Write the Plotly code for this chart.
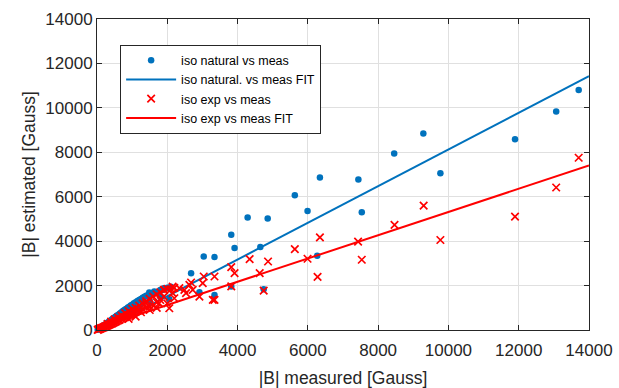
import plotly.graph_objects as go

# iso natural vs meas (blue dots)
nat_x = [20, 40, 60, 80, 100, 120, 150, 180, 200, 230, 260, 290, 320, 350, 380, 410, 440, 470, 500, 530,
         560, 600, 640, 680, 720, 760, 800, 840, 880, 920, 960, 1000, 1050, 1100, 1150, 1200, 1250, 1300,
         1350, 1400, 1450, 1500, 1600, 1700, 1800, 1900, 2000, 2100, 1200, 900, 600, 1000, 1500, 1800,
         1486, 1629, 1857, 2057, 700, 1100, 1300,
         2677, 2914, 3037, 3343, 3343, 3820, 3914, 3820, 4286, 4648, 4743, 4857,
         5629, 5991, 6266, 6343, 7438, 7534, 8457, 9286, 9771, 11895, 13066, 13706]
nat_y = [15, 40, 55, 80, 100, 115, 150, 190, 210, 240, 280, 310, 350, 380, 420, 450, 490, 520, 560, 600,
         640, 680, 730, 780, 830, 880, 920, 960, 1010, 1050, 1100, 1140, 1200, 1250, 1300, 1350, 1400, 1450,
         1500, 1540, 1560, 1600, 1650, 1700, 1800, 1880, 1900, 1950, 1000, 800, 500, 900, 1300, 1500,
         1686, 1731, 1806, 1386, 700, 1050, 1200,
         2560, 1701, 3311, 3282, 1581, 4290, 3690, 1956, 5059, 3734, 1837, 5020,
         6066, 5360, 3342, 6865, 6775, 5300, 7950, 8850, 7060, 8582, 9833, 10808]

# iso exp vs meas (red crosses)
exp_x = [20, 40, 60, 80, 100, 120, 150, 180, 200, 230, 260, 290, 320, 350, 380, 410, 440, 470, 500, 530,
         560, 600, 640, 680, 720, 760, 800, 840, 880, 920, 960, 1000, 1050, 1100, 1150, 1200, 1300, 1400, 1500,
         300, 400, 500, 600, 700, 800, 900, 1000, 1100, 1200, 1300, 1400, 1500, 1600, 1700, 1800, 1900, 2000,
         2200, 1600, 1700, 1800, 1900, 1250, 1500, 1700, 2000, 1100, 900, 1391, 1771, 1914, 2152, 2343,
         2152, 2533, 2057, 2200, 2105, 2486, 2629, 2724, 2914, 3009, 3295, 3037, 3343, 2677, 3820, 3914,
         3820, 4343, 4629, 4743, 4867, 3343,
         5629, 5991, 6343, 6276, 7429, 7534, 8466, 9295, 9771, 11895, 13066, 13706]
exp_y = [10, 25, 40, 50, 60, 80, 100, 120, 130, 160, 170, 200, 220, 240, 260, 290, 300, 330, 350, 380,
         400, 430, 460, 500, 520, 560, 580, 620, 650, 680, 700, 740, 780, 820, 860, 900, 950, 1000, 1050,
         280, 380, 480, 560, 650, 760, 850, 950, 1000, 1100, 1200, 1300, 1400, 1500, 1600, 1700, 1800, 1850,
         1900, 1100, 1250, 1350, 1500, 800, 900, 1000, 1200, 600, 500, 1204, 1204, 1806, 1956, 1882,
         1656, 1656, 978, 1430, 1836, 1806, 2032, 1806, 1505, 2108, 1355, 2408, 2408, 2138, 2830, 2560,
         1960, 3192, 2560, 1776, 3084, 1355,
         3644, 3207, 4170, 2393, 3975, 3162, 4728, 5600, 4051, 5104, 6414, 7755]

# linear fits (endpoints)
fit_x = [0, 14000]
nat_fit_y = [-130, 11426]
exp_fit_y = [80, 7406]

blue = "#0072BD"
red = "#FF0000"
fontc = "#262626"
fam = "Liberation Sans, Arial"

fig = go.Figure()
fig.add_trace(go.Scatter(x=nat_x, y=nat_y, mode="markers", name="iso natural vs meas",
                         marker=dict(color=blue, size=6.5, symbol="circle"), cliponaxis=False))
fig.add_trace(go.Scatter(x=fit_x, y=nat_fit_y, mode="lines", name="iso natural. vs meas FIT",
                         line=dict(color=blue, width=2)))
fig.add_trace(go.Scatter(x=exp_x, y=exp_y, mode="markers", name="iso exp vs meas",
                         marker=dict(color=red, size=7.5, symbol="x-thin", line=dict(color=red, width=1.7)),
                         cliponaxis=False))
fig.add_trace(go.Scatter(x=fit_x, y=exp_fit_y, mode="lines", name="iso exp vs meas FIT",
                         line=dict(color=red, width=2)))

axis_common = dict(range=[0, 14000], dtick=2000, showgrid=True, gridcolor="#e0e0e0", gridwidth=1,
                   showline=True, linecolor=fontc, linewidth=1, mirror="ticks", ticks="inside",
                   ticklen=5, tickcolor=fontc, zeroline=False, tickformat="d", automargin=False,
                   tickfont=dict(family=fam, size=17, color=fontc))

fig.update_layout(
    width=619, height=388,
    margin=dict(l=97, r=30, t=19, b=58),
    paper_bgcolor="white", plot_bgcolor="white",
    xaxis=dict(**axis_common, ticklabelstandoff=5,
               title=dict(text="|B| measured [Gauss]", standoff=12,
                          font=dict(family=fam, size=17.5, color=fontc))),
    yaxis=dict(**axis_common, title=dict(text="|B| estimated [Gauss]", standoff=5,
                                         font=dict(family=fam, size=17.5, color=fontc))),
    legend=dict(x=0.047, y=0.918, xanchor="left", yanchor="top", bgcolor="white",
                bordercolor=fontc, borderwidth=1, tracegroupgap=0, itemwidth=50,
                font=dict(family=fam, size=12.5, color="black")),
    showlegend=True,
)

fig.write_html("out.html")
